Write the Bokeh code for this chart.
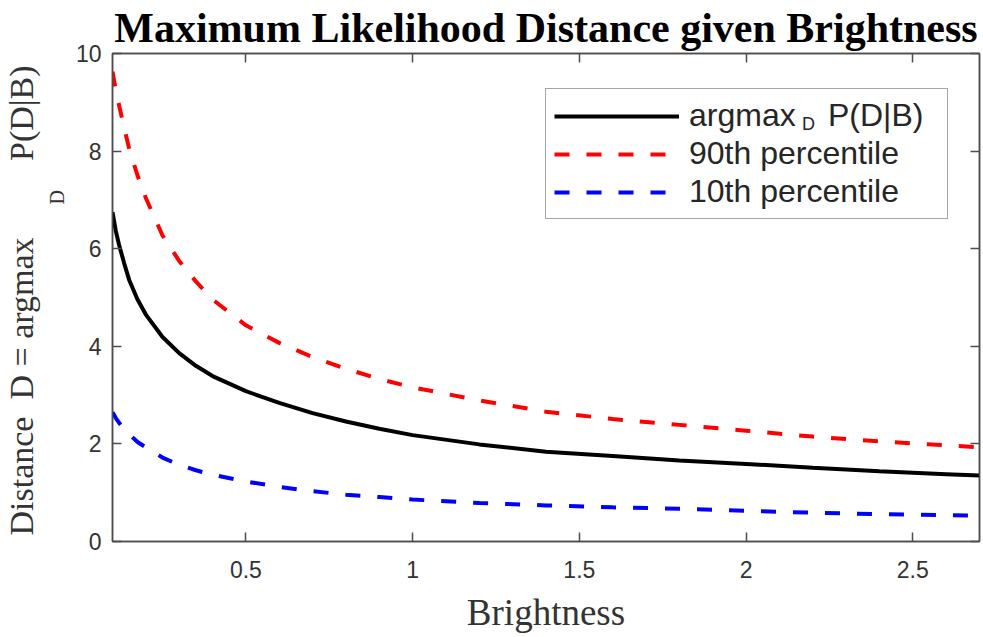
from bokeh.plotting import figure
from bokeh.models import Range1d, FixedTicker, LinearAxis, Legend, LegendItem, Title
from bokeh.embed import file_html
from bokeh.resources import INLINE

# ---- data ----
brightness = [0.1, 0.11, 0.12, 0.135, 0.15, 0.175, 0.2, 0.25, 0.3, 0.35, 0.4, 0.5, 0.6, 0.7,
              0.8, 0.9, 1.0, 1.2, 1.4, 1.6, 1.8, 2.0, 2.2, 2.4, 2.6, 2.7]
argmax_d = [6.75, 6.36, 6.07, 5.70, 5.36, 4.96, 4.65, 4.19, 3.86, 3.60, 3.39, 3.08, 2.84, 2.63,
            2.46, 2.31, 2.18, 1.99, 1.84, 1.75, 1.66, 1.59, 1.51, 1.44, 1.38, 1.35]
p90_d = [9.63, 9.25, 8.93, 8.48, 8.05, 7.50, 7.04, 6.27, 5.75, 5.33, 4.96, 4.43, 4.07, 3.78,
         3.54, 3.33, 3.16, 2.89, 2.66, 2.51, 2.39, 2.27, 2.15, 2.05, 1.97, 1.93]
p10_d = [2.65, 2.53, 2.43, 2.31, 2.20, 2.04, 1.93, 1.72, 1.57, 1.46, 1.37, 1.23, 1.12, 1.03,
         0.96, 0.91, 0.86, 0.79, 0.74, 0.70, 0.67, 0.63, 0.59, 0.56, 0.54, 0.53]

x_ticks = [0.5, 1, 1.5, 2, 2.5]
x_tick_labels = ["0.5", "1", "1.5", "2", "2.5"]
y_ticks = [0, 2, 4, 6, 8, 10]
y_tick_labels = ["0", "2", "4", "6", "8", "10"]

title_text = "Maximum Likelihood Distance given Brightness"
x_label = "Brightness"
y_label_main = "Distance\u00a0\u00a0D = argmax" + "\u00a0" * 9 + "P(D|B)"
y_label_sub = "D"
series_labels = ["argmax", "90th percentile", "10th percentile"]
legend_sub = "D"
legend_tail = "P(D|B)"

# ---- styling ----
SERIF = "Liberation Serif"
SANS = "Liberation Sans"
AX = "#4d4d4d"
TXT = "#333333"
LEG_TXT = "#262626"

W, H = 983, 637
BL, BR, BT, BB = 112, 4, 52, 96

p = figure(width=W, height=H, output_backend="svg", toolbar_location=None,
           x_range=Range1d(0.1, 2.7), y_range=Range1d(0, 10),
           min_border_left=BL, min_border_right=BR, min_border_top=BT, min_border_bottom=BB,
           background_fill_color="white", border_fill_color="white")
p.grid.visible = False
p.outline_line_color = AX
p.outline_line_width = 1.5

p.title.text = title_text
p.title.text_font = SERIF
p.title.text_font_size = "42px"
p.title.text_font_style = "bold"
p.title.text_color = "black"
p.title.align = "center"
p.title.standoff = 5

def style_axis(ax, ticks, labels=None, show_labels=True):
    ax.ticker = FixedTicker(ticks=ticks)
    ax.major_tick_in = 9
    ax.major_tick_out = 0
    ax.minor_tick_line_color = None
    ax.axis_line_color = AX
    ax.axis_line_width = 1.5
    ax.major_tick_line_color = AX
    ax.major_tick_line_width = 1.5
    if labels is not None:
        ax.major_label_overrides = {t: l for t, l in zip(ticks, labels)}
    ax.major_label_text_font = SANS
    ax.major_label_text_font_size = "23px"
    if show_labels:
        ax.major_label_text_color = TXT
    else:
        ax.major_label_text_color = None
        ax.major_label_standoff = 0

style_axis(p.xaxis[0], x_ticks, x_tick_labels)
style_axis(p.yaxis[0], y_ticks, y_tick_labels)
p.xaxis[0].major_label_standoff = 19
p.yaxis[0].major_label_standoff = 11

p.xaxis[0].axis_label = x_label
p.xaxis[0].axis_label_text_font = SERIF
p.xaxis[0].axis_label_text_font_size = "37px"
p.xaxis[0].axis_label_text_font_style = "normal"
p.xaxis[0].axis_label_text_color = TXT
p.xaxis[0].axis_label_standoff = 11

top_ax = LinearAxis()
right_ax = LinearAxis()
style_axis(top_ax, x_ticks, show_labels=False)
style_axis(right_ax, y_ticks, show_labels=False)
p.add_layout(top_ax, "above")
p.add_layout(right_ax, "right")

# ---- y axis label as side titles (subscript nearer the axis) ----
sub_t = Title(text=y_label_sub, align="left", offset=337, standoff=9,
              text_font=SERIF, text_font_size="20px", text_font_style="normal", text_color=TXT)
main_t = Title(text=y_label_main, align="left", offset=6, standoff=0,
               text_font=SERIF, text_font_size="34px", text_font_style="normal", text_color=TXT)
p.add_layout(sub_t, "left")
p.add_layout(main_t, "left")

# ---- lines ----
r_black = p.line(brightness, argmax_d, line_color="black", line_width=4)
r_red = p.line(brightness, p90_d, line_color="#ff0000", line_width=4, line_dash="15 17")
r_blue = p.line(brightness, p10_d, line_color="#0000ff", line_width=4, line_dash="15 17")

legend = Legend(items=[LegendItem(label=series_labels[0], renderers=[r_black]),
                       LegendItem(label=series_labels[1], renderers=[r_red]),
                       LegendItem(label=series_labels[2], renderers=[r_blue])],
                location=(433, 322), orientation="vertical",
                label_text_font=SANS, label_text_font_size="32px", label_text_color=LEG_TXT,
                label_height=32, glyph_height=32, glyph_width=125, label_standoff=10,
                label_width=250, spacing=1, padding=8, margin=0,
                border_line_color=AX, border_line_width=1.5, background_fill_alpha=1.0)
p.add_layout(legend, "center")

def text_only_legend(text, size, loc, height):
    return Legend(items=[LegendItem(label=text, renderers=[r_black])],
                  location=loc, orientation="vertical",
                  label_text_font=SANS, label_text_font_size=size, label_text_color=LEG_TXT,
                  label_height=height, glyph_height=height, glyph_width=0, label_standoff=0,
                  label_width=10, spacing=0, padding=0, margin=0,
                  border_line_color=None, background_fill_alpha=0.0)

# subscript "D" and the tail "P(D|B)" of the first legend entry
p.add_layout(text_only_legend(legend_sub, "18px", (690, 406), 18), "center")
p.add_layout(text_only_legend(legend_tail, "32px", (716, 407), 32), "center")

open("out.html", "w").write(file_html(p, INLINE))
